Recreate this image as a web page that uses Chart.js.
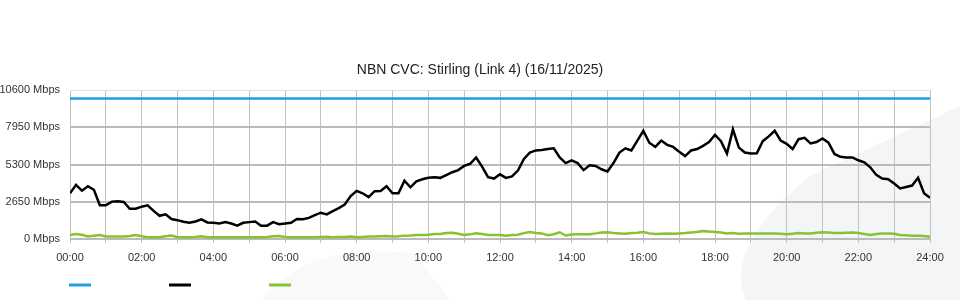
<!DOCTYPE html>
<html>
<head>
<meta charset="utf-8">
<script src="https://cdn.jsdelivr.net/npm/chart.js@4/dist/chart.umd.min.js"></script>
<style>
  html, body { margin: 0; padding: 0; background: #fff; }
  #wrap { width: 960px; height: 300px; }
</style>
</head>
<body>
<div id="wrap"><canvas id="cvcChart" width="960" height="300"></canvas></div>
<script>
// Data, one sample every 10 minutes (00:00 .. 24:00)
const sampleMinutes = 10;
const chartTitle = 'NBN CVC: Stirling (Link 4) (16/11/2025)';

const traffic = [
  3250, 3850, 3440, 3760, 3500, 2400,
  2400, 2660, 2680, 2640, 2150, 2150,
  2300, 2400, 2000, 1650, 1760, 1420,
  1340, 1230, 1160, 1250, 1400, 1180,
  1150, 1100, 1200, 1100, 950, 1150,
  1200, 1250, 950, 950, 1200, 1050,
  1100, 1160, 1420, 1400, 1500, 1700,
  1870, 1750, 1980, 2200, 2450, 3050,
  3420, 3250, 2980, 3400, 3420, 3750,
  3250, 3250, 4150, 3680, 4100, 4250,
  4350, 4400, 4350, 4550, 4750, 4900,
  5200, 5350, 5800, 5150, 4400, 4300,
  4600, 4350, 4450, 4870, 5700, 6150,
  6300, 6330, 6400, 6450, 5800, 5400,
  5600, 5400, 4900, 5250, 5200, 4960,
  4800, 5400, 6150, 6450, 6300, 7000,
  7700, 6850, 6550, 7000, 6700, 6550,
  6200, 5900, 6300, 6400, 6625, 6900,
  7400, 6960, 6080, 7800, 6500, 6150,
  6080, 6100, 6960, 7300, 7700, 7000,
  6770, 6400, 7100, 7200, 6800, 6900,
  7150, 6850, 6050, 5850, 5800, 5800,
  5600, 5450, 5100, 4560, 4300, 4250,
  3950, 3600, 3700, 3800, 4350, 3250,
  2940
];

const upstream = [
  290, 350, 300, 180, 230, 280,
  180, 180, 180, 180, 220, 280,
  200, 130, 120, 120, 200, 240,
  130, 120, 120, 150, 200, 130,
  120, 120, 120, 120, 120, 120,
  120, 120, 120, 140, 200, 210,
  150, 120, 120, 120, 120, 120,
  140, 160, 130, 140, 140, 170,
  120, 150, 170, 170, 200, 210,
  180, 190, 240, 250, 285, 290,
  300, 350, 350, 420, 450, 380,
  290, 330, 400, 350, 290, 290,
  280, 240, 290, 300, 420, 500,
  420, 400, 270, 340, 480, 250,
  320, 330, 330, 340, 400, 470,
  480, 420, 400, 380, 420, 450,
  500, 400, 360, 380, 400, 380,
  400, 420, 460, 500, 560, 540,
  500, 460, 400, 420, 380, 400,
  400, 400, 400, 400, 400, 380,
  330, 380, 430, 400, 400, 450,
  480, 470, 420, 420, 440, 460,
  420, 360, 290, 350, 400, 400,
  380, 290, 260, 240, 240, 220,
  160
];

const capacity = 10000;
const yTicks = [0, 2650, 5300, 7950, 10600];
const xLabels = ['00:00', '02:00', '04:00', '06:00', '08:00', '10:00', '12:00',
                 '14:00', '16:00', '18:00', '20:00', '22:00', '24:00'];

const lineColors = ['#1e9fe0', '#000000', '#86c232'];

function toPoints(values) {
    return values.map(function(v, i) { return { x: i * sampleMinutes, y: v }; });
}

// light grey shapes behind the chart
const backdrop = {
    id: 'backdrop',
    beforeDraw(chart) {
        const c = chart.ctx;
        c.save();
        c.fillStyle = '#ffffff';
        c.fillRect(0, 0, chart.width, chart.height);
        c.fillStyle = '#f4f5f7';
        c.beginPath();
        c.moveTo(746, 300);
        c.bezierCurveTo(730, 268, 752, 222, 810, 176);
        c.lineTo(960, 106);
        c.lineTo(960, 300);
        c.closePath();
        c.fill();
        c.beginPath();
        c.moveTo(262, 300);
        c.bezierCurveTo(290, 262, 345, 244, 415, 254);
        c.lineTo(450, 300);
        c.closePath();
        c.fillStyle = '#f9f9fa';
        c.fill();
        c.restore();
    }
};

// legend: just coloured line samples, no text
const lineKey = {
    id: 'lineKey',
    afterDraw(chart) {
        const c = chart.ctx;
        c.save();
        c.lineWidth = 3;
        chart.data.datasets.forEach(function(ds, i) {
            c.strokeStyle = ds.borderColor;
            c.beginPath();
            c.moveTo(69 + i * 100, 285);
            c.lineTo(91 + i * 100, 285);
            c.stroke();
        });
        c.restore();
    }
};

document.addEventListener('DOMContentLoaded', function() {
    const ctx = document.getElementById('cvcChart').getContext('2d');
    Chart.defaults.font.family = '"Liberation Sans", Arial, sans-serif';
    Chart.defaults.color = '#333';

    new Chart(ctx, {
        type: 'line',
        data: {
            datasets: [
                {
                    label: 'Capacity',
                    data: toPoints(traffic.map(function() { return capacity; })),
                    borderColor: lineColors[0],
                    borderWidth: 2.5
                },
                {
                    label: 'Traffic',
                    data: toPoints(traffic),
                    borderColor: lineColors[1],
                    borderWidth: 2.5
                },
                {
                    label: 'Upstream',
                    data: toPoints(upstream),
                    borderColor: lineColors[2],
                    borderWidth: 2.5
                }
            ]
        },
        options: {
            responsive: false,
            animation: false,
            elements: {
                point: { radius: 0 },
                line: { tension: 0, fill: false }
            },
            layout: { padding: 0 },
            scales: {
                x: {
                    type: 'linear',
                    min: 0,
                    max: 1440,
                    afterFit: function(scale) { scale.height = 61; },
                    border: { display: false },
                    grid: { color: '#c2c2c2', lineWidth: 1, tickLength: 4 },
                    ticks: {
                        stepSize: 60,
                        autoSkip: false,
                        maxRotation: 0,
                        padding: 8,
                        font: { size: 11 },
                        callback: function(v) {
                            return v % 120 === 0 ? xLabels[v / 120] : '';
                        }
                    }
                },
                y: {
                    min: 0,
                    max: 10600,
                    afterFit: function(scale) { scale.width = 70; },
                    afterBuildTicks: function(scale) {
                        scale.ticks = yTicks.map(function(v) { return { value: v }; });
                    },
                    border: { display: false },
                    grid: {
                        drawTicks: false,
                        color: function(c) { return c.tick && c.tick.value === 10600 ? '#e2e2e2' : '#bbbbbb'; },
                        lineWidth: function(c) { return c.tick && c.tick.value === 10600 ? 1 : 2; }
                    },
                    ticks: {
                        padding: 10,
                        font: { size: 11 },
                        callback: function(v) { return v + ' Mbps'; }
                    }
                },
                // empty right margin so the title stays centred on the page
                gap: {
                    position: 'right',
                    min: 0,
                    max: 1,
                    afterFit: function(scale) { scale.width = 30; },
                    grid: { display: false },
                    border: { display: false },
                    ticks: { display: false }
                }
            },
            plugins: {
                legend: { display: false },
                tooltip: { enabled: false },
                title: {
                    display: true,
                    text: chartTitle,
                    color: '#222',
                    font: { size: 14, weight: 'normal' },
                    padding: { top: 61.5, bottom: 11.7 }
                }
            }
        },
        plugins: [backdrop, lineKey]
    });
});
</script>
</body>
</html>
